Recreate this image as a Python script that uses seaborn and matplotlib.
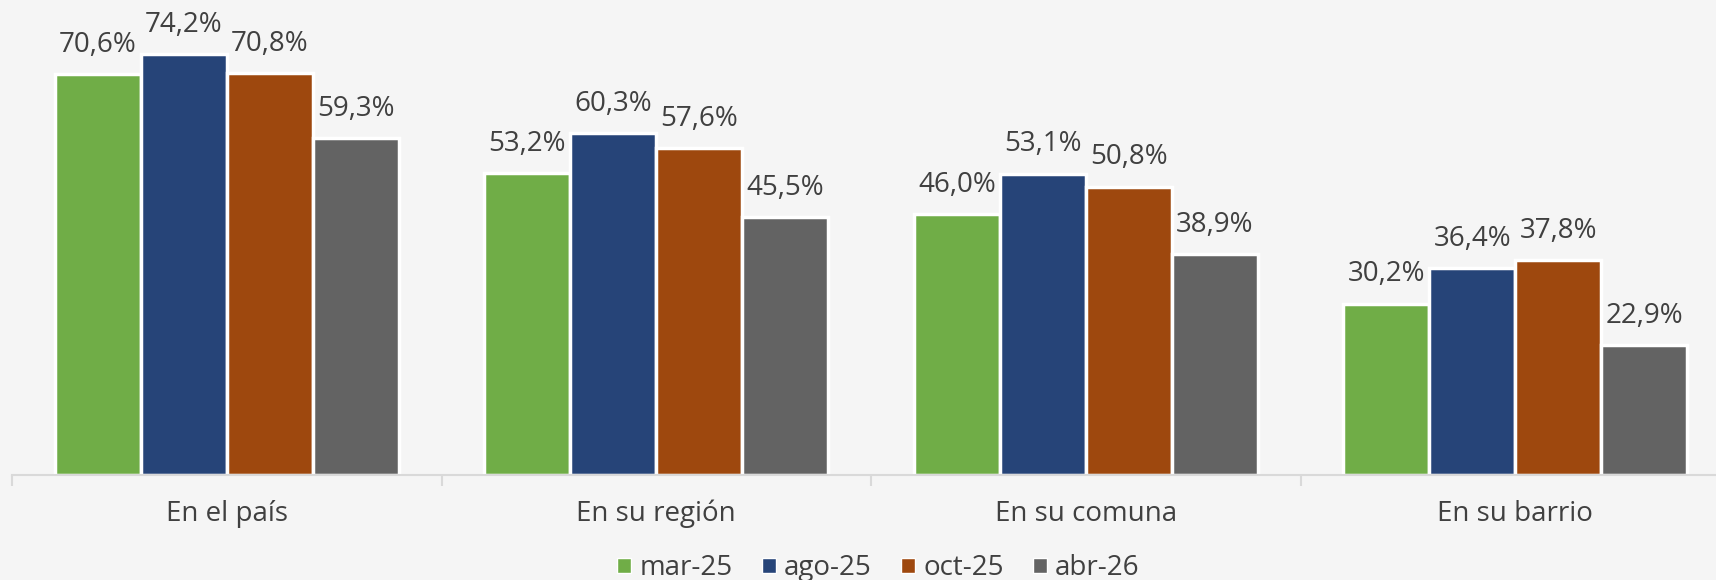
import matplotlib
matplotlib.use("Agg")
import matplotlib.pyplot as plt
import seaborn as sns
import pandas as pd
from matplotlib.patches import Patch

categories = ["En el país", "En su región", "En su comuna", "En su barrio"]
series = ["mar-25", "ago-25", "oct-25", "abr-26"]
mar25 = [70.6, 53.2, 46.0, 30.2]
ago25 = [74.2, 60.3, 53.1, 36.4]
oct25 = [70.8, 57.6, 50.8, 37.8]
abr26 = [59.3, 45.5, 38.9, 22.9]
colors = ["#70AD47", "#264478", "#9E480E", "#636363"]

rows = []
for s, vals in zip(series, [mar25, ago25, oct25, abr26]):
    for c, v in zip(categories, vals):
        rows.append({"cat": c, "serie": s, "val": v})
df = pd.DataFrame(rows)

sns.set_theme(style="white")
plt.rcParams["font.family"] = ["Open Sans", "DejaVu Sans"]

bg = "#f5f5f5"
fig = plt.figure(figsize=(17.16, 5.8), dpi=100, facecolor=bg)
ax = fig.add_axes([12/1716, 105/580, 1718/1716, 454/580])
ax.set_facecolor("none")

sns.barplot(data=df, x="cat", y="val", hue="serie", hue_order=series,
            order=categories, palette=colors, edgecolor="white", linewidth=2.5,
            width=0.8, saturation=1, ax=ax, legend=False)

for cont in ax.containers:
    labels = [f"{b.get_height():.1f}".replace(".", ",") + "%" for b in cont]
    ax.bar_label(cont, labels=labels, padding=11, fontsize=20, color="#404040", clip_on=False)

ax.set_xlim(-0.5, 3.5)
ax.set_ylim(0, 80)
ax.set_xlabel("")
ax.set_ylabel("")
ax.set_yticks([])
for sp in ["top", "right", "left"]:
    ax.spines[sp].set_visible(False)
ax.spines["bottom"].set_color("#d9d9d9")
ax.spines["bottom"].set_linewidth(1.5)

ax.set_xticks([-0.5, 0.5, 1.5, 2.5, 3.5], minor=False)
ax.set_xticklabels([])
ax.tick_params(axis="x", which="major", bottom=True, direction="out", length=8, width=1.5, color="#d9d9d9")
ax.set_xticks([0, 1, 2, 3], minor=True)
ax.set_xticklabels(categories, minor=True, fontsize=20, color="#404040")
ax.tick_params(axis="x", which="minor", bottom=True, length=0, pad=18)

handles = [Patch(facecolor=c, edgecolor="white", label=s) for s, c in zip(series, colors)]
fig.legend(handles=handles, loc="center", bbox_to_anchor=(0.512, 0.02), ncol=4,
           frameon=False, fontsize=20, handlelength=0.5, handleheight=0.5,
           handletextpad=0.3, columnspacing=1.05, labelcolor="#404040")

fig.savefig("out.png", dpi=100, facecolor=bg)
